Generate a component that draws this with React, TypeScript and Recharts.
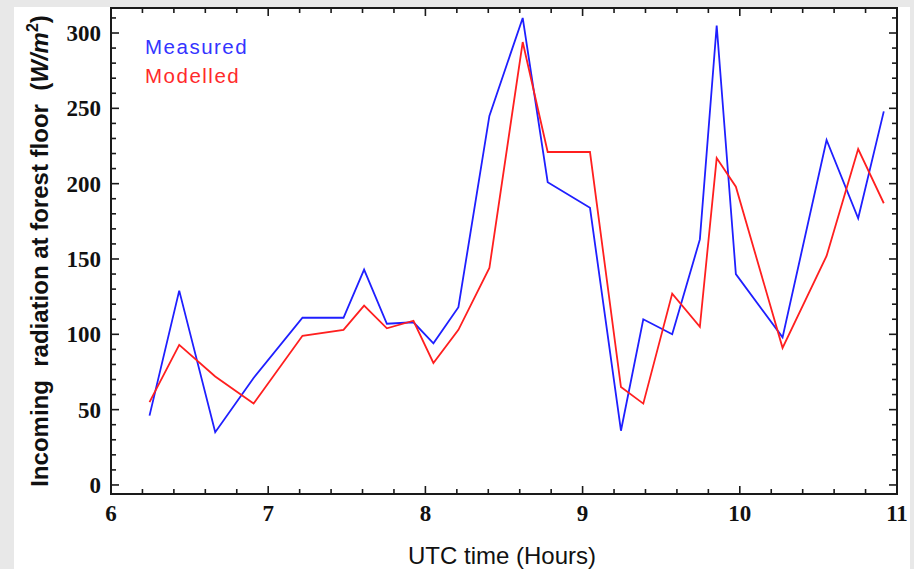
import { ComposedChart, Line, Scatter, XAxis, YAxis, Legend, Label, ReferenceArea } from "recharts";

// UTC time of each sample (hours)
const hours = [
  6.245, 6.434, 6.663, 6.907, 7.218, 7.479, 7.61, 7.755, 7.924, 8.051, 8.21,
  8.407, 8.619, 8.778, 9.047, 9.244, 9.386, 9.57, 9.746, 9.853, 9.975, 10.272,
  10.552, 10.753, 10.916,
];
const measured = [
  46, 129, 35, 71, 111, 111, 143, 107, 108, 94, 118, 245, 310, 201, 184, 36,
  110, 100, 163, 305, 140, 98, 229, 177, 248,
];
const modelled = [
  55, 93, 72, 54, 99, 103, 119, 104, 109, 81, 103, 144, 294, 221, 221, 65, 54,
  127, 105, 217, 198, 91, 152, 223, 187,
];

const xTicks = [6, 7, 8, 9, 10, 11];
const xMinorTicks = [
  6.2, 6.4, 6.6, 6.8, 7.2, 7.4, 7.6, 7.8, 8.2, 8.4, 8.6, 8.8, 9.2, 9.4, 9.6,
  9.8, 10.2, 10.4, 10.6, 10.8,
];
const yTicks = [0, 50, 100, 150, 200, 250, 300];
const yMinorTicks = [
  10, 20, 30, 40, 60, 70, 80, 90, 110, 120, 130, 140, 160, 170, 180, 190, 210,
  220, 230, 240, 260, 270, 280, 290, 310,
];

const X_DOMAIN: [number, number] = [6, 11];
const Y_DOMAIN: [number, number] = [-6, 316.6];

const data = hours.map((t, i) => ({ t, measured: measured[i], modelled: modelled[i] }));
const xAll = [...xTicks, ...xMinorTicks].sort((a, b) => a - b);
const yAll = [...yTicks, ...yMinorTicks].sort((a, b) => a - b);
// anchor points on the top edge, one per x tick
const topTickData = xAll.map((t) => ({ t, edge: Y_DOMAIN[1] }));

const MARGIN = { top: 8, right: 17, left: 0, bottom: 0 };
const CHART_H = 569;
const FRAME = "#1a1a1a";
const serif = "'Liberation Serif', 'Times New Roman', serif";
const sans = "'Liberation Sans', Arial, sans-serif";

function FrameTick(props: any) {
  const { x, y, payload, side, labels } = props;
  const v = payload.value;
  const major = side === "bottom" ? xTicks.includes(v) : yTicks.includes(v);
  const len = major ? 8 : 5;
  return (
    <g>
      {side === "bottom" && <line x1={x} y1={y} x2={x} y2={y - len} stroke={FRAME} strokeWidth={1.6} />}
      {side === "left" && <line x1={x} y1={y} x2={x + len} y2={y} stroke={FRAME} strokeWidth={1.6} />}
      {side === "right" && <line x1={x} y1={y} x2={x - len} y2={y} stroke={FRAME} strokeWidth={1.6} />}
      {labels && major && side === "bottom" && (
        <text x={x} y={y + 11} dy="0.71em" textAnchor="middle" fontFamily={serif} fontWeight="bold" fontSize={23} fill="#111">
          {v}
        </text>
      )}
      {labels && major && side === "left" && (
        <text x={x - 10} y={y} dy="0.355em" textAnchor="end" fontFamily={serif} fontWeight="bold" fontSize={23} fill="#111">
          {v}
        </text>
      )}
    </g>
  );
}

// inward tick hanging down from the top edge
function TopTick(props: any) {
  const { cx, cy, payload } = props;
  if (cx == null || cy == null) return <g />;
  const len = xTicks.includes(payload.t) ? 8 : 5;
  return <line x1={cx} y1={cy} x2={cx} y2={cy + len} stroke={FRAME} strokeWidth={1.6} />;
}

function YTitle(props: any) {
  const vb = props.viewBox || { x: 0, y: 8, width: 111, height: 486 };
  const x = vb.x + 48;
  const y = vb.y + vb.height / 2;
  return (
    <text
      x={x}
      y={y}
      transform={`rotate(-90, ${x}, ${y})`}
      textAnchor="middle"
      fontFamily={sans}
      fontWeight="bold"
      fontSize={24}
      fill="#111"
      style={{ whiteSpace: "pre" }}
    >
      {"Incoming  radiation at forest floor  ("}
      <tspan fontStyle="italic">W/m</tspan>
      <tspan dy={-10} fontSize={16}>2</tspan>
      <tspan dy={10}>)</tspan>
    </text>
  );
}

function XTitle(props: any) {
  const vb = props.viewBox || { x: 111, y: 494, width: 786, height: 75 };
  return (
    <text x={vb.x + vb.width / 2 - 2} y={vb.y + 70} textAnchor="middle" fontFamily={sans} fontSize={24} fill="#111">
      UTC time (Hours)
    </text>
  );
}

function LegendBox() {
  const base = {
    fontFamily: sans,
    fontSize: 20.5,
    letterSpacing: 1.5,
    lineHeight: "28.5px",
    whiteSpace: "nowrap" as const,
  };
  return (
    <div>
      <div style={{ ...base, color: "#3434ff" }}>Measured</div>
      <div style={{ ...base, color: "#ff2a2a" }}>Modelled</div>
    </div>
  );
}

export default function App() {
  return (
    <div
      style={{
        position: "absolute",
        left: 0,
        top: 0,
        width: 914,
        height: CHART_H,
        background: "#e8e8e8",
        overflow: "hidden",
      }}
    >
      <div style={{ position: "absolute", left: 14, top: 7, width: 896, height: 562, background: "#fff" }} />
      <div style={{ position: "absolute", left: 0, top: 0 }}>
        <ComposedChart width={914} height={CHART_H} data={data} margin={MARGIN}>
          <ReferenceArea
            xAxisId="main"
            yAxisId="main"
            x1={X_DOMAIN[0]}
            x2={X_DOMAIN[1]}
            y1={Y_DOMAIN[0]}
            y2={Y_DOMAIN[1]}
            fill="none"
            fillOpacity={0}
            stroke={FRAME}
            strokeWidth={2}
            ifOverflow="visible"
          />
          <XAxis
            xAxisId="main"
            dataKey="t"
            type="number"
            domain={X_DOMAIN}
            allowDataOverflow
            ticks={xAll}
            interval={0}
            height={75}
            tickLine={false}
            tickSize={0}
            tickMargin={0}
            axisLine={false}
            tick={<FrameTick side="bottom" labels />}
          >
            <Label content={<XTitle />} />
          </XAxis>
          <YAxis
            yAxisId="main"
            type="number"
            domain={Y_DOMAIN}
            allowDataOverflow
            ticks={yAll}
            interval={0}
            width={111}
            tickLine={false}
            tickSize={0}
            tickMargin={0}
            axisLine={false}
            tick={<FrameTick side="left" labels />}
          >
            <Label content={<YTitle />} />
          </YAxis>
          <YAxis
            yAxisId="right"
            orientation="right"
            type="number"
            domain={Y_DOMAIN}
            allowDataOverflow
            mirror
            ticks={yAll}
            interval={0}
            tickLine={false}
            tickSize={0}
            tickMargin={0}
            axisLine={false}
            tick={<FrameTick side="right" />}
          />

          <Legend
            layout="vertical"
            align="center"
            verticalAlign="middle"
            wrapperStyle={{ top: 33, left: 145, width: "auto" }}
            content={<LegendBox />}
          />

          <Scatter
            xAxisId="main"
            yAxisId="main"
            data={topTickData}
            dataKey="edge"
            shape={<TopTick />}
            legendType="none"
            isAnimationActive={false}
          />
          <Line
            xAxisId="main"
            yAxisId="main"
            type="linear"
            dataKey="measured"
            name="Measured"
            stroke="#1f1fff"
            strokeWidth={1.8}
            dot={false}
            isAnimationActive={false}
          />
          <Line
            xAxisId="main"
            yAxisId="main"
            type="linear"
            dataKey="modelled"
            name="Modelled"
            stroke="#ff1f1f"
            strokeWidth={1.8}
            dot={false}
            isAnimationActive={false}
          />
        </ComposedChart>
      </div>
    </div>
  );
}
